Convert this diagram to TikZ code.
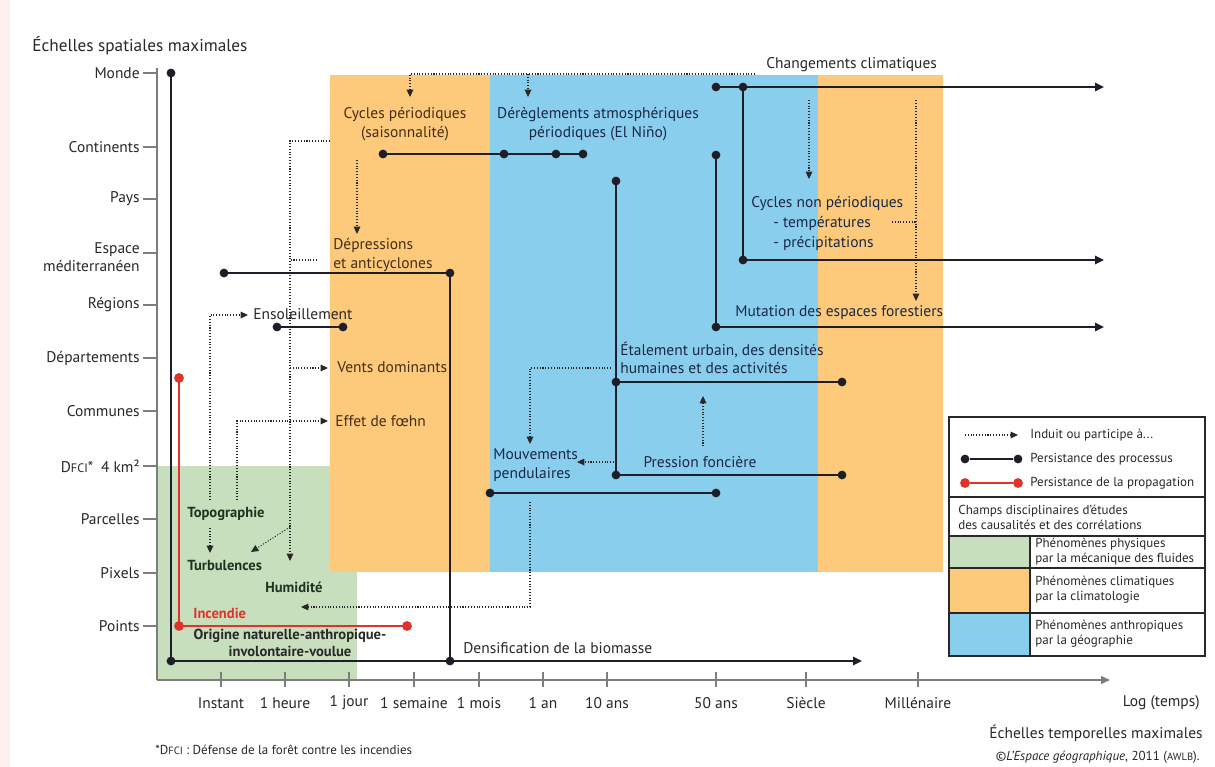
\documentclass[tikz,border=0pt]{standalone}
\usepackage{fontspec}
\setmainfont{PT Sans}
\usepackage{tikz}
\usetikzlibrary{arrows.meta,positioning}
\definecolor{fondvert}{RGB}{200,223,190}
\definecolor{fondorange}{RGB}{253,201,122}
\definecolor{fondbleu}{RGB}{138,206,238}
\definecolor{fondrose}{RGB}{252,241,238}
\definecolor{trait}{RGB}{30,30,40}
\definecolor{rouge}{RGB}{222,52,44}
\definecolor{axe}{RGB}{125,125,125}
\definecolor{encre}{RGB}{40,40,40}
\definecolor{encreclim}{RGB}{70,46,20}
\definecolor{encregeo}{RGB}{26,40,70}
\definecolor{encrephys}{RGB}{32,50,32}
\tikzset{
  pt/.style={circle,fill=trait,inner sep=0pt,minimum size=5pt},
  ptrouge/.style={circle,fill=rouge,inner sep=0pt,minimum size=5.6pt},
  persiste/.style={draw=trait,line width=1.4pt},
  propage/.style={draw=rouge,line width=1.7pt},
  fleche/.style={-{Triangle[length=5pt,width=4.6pt]}},
  induit/.style={draw=encre,densely dotted,line width=0.6pt,-{Triangle[length=4.2pt,width=3.8pt]}},
  trace/.style={draw=encre,densely dotted,line width=0.6pt},
  graduation/.style={draw=axe,line width=0.7pt},
  cadre/.style={draw=encre,line width=0.6pt},
  etiq/.style={inner sep=0pt,text=encre,font=\fontsize{8.8}{10.4}\selectfont},
  gras/.style={inner sep=0pt,font=\fontsize{8.3}{10}\selectfont\bfseries},
  legende/.style={inner sep=0pt,text=encre,font=\fontsize{7.4}{8.5}\selectfont}
}

\begin{document}
\begin{tikzpicture}[x=0.02cm,y=-0.02cm]
\useasboundingbox (0,0) rectangle (1215,767);
\fill[white] (0,0) rectangle (1215,767);
\fill[fondrose] (0,0) rectangle (10,767);

\fill[fondvert] (157,466) rectangle (357,680);
\fill[fondorange] (330,75) rectangle (490,572);
\fill[fondbleu] (490,75) rectangle (818,572);
\fill[fondorange] (818,75) rectangle (943,572);

% axes
\coordinate (oy) at (157,68);
\coordinate (o) at (157,680);
\coordinate (ox) at (1110,680);
\draw[graduation] (o) -- (oy);
\draw[graduation,-{Triangle[length=5pt,width=4.4pt]}] (o) -- (ox);
\foreach \y in {73,147,199,253,305,358,411,466,519,573,626}
  \draw[graduation] (143,\y) -- (157,\y);
\foreach \x in {221,285,349,414,479,543,607,716,806,918}
  \draw[graduation] (\x,672) -- (\x,687);

\node[etiq,anchor=west,font=\fontsize{9.8}{11}\selectfont] (titrey) at (32,46) {Échelles spatiales maximales};
\node[etiq,anchor=east] (ymonde) at (140,73) {Monde};
\node[etiq,anchor=east] (ycont) at (140,147) {Continents};
\node[etiq,anchor=east] (ypays) at (140,199) {Pays};
\node[etiq,anchor=east,align=right] (ymed) at (140,257) {Espace\\méditerranéen};
\node[etiq,anchor=east] (yreg) at (140,305) {Régions};
\node[etiq,anchor=east] (ydep) at (140,358) {Départements};
\node[etiq,anchor=east] (ycom) at (140,411) {Communes};
\node[etiq,anchor=east] (ydfci) at (140,466) {D{\fontsize{7}{8}\selectfont FCI}*\enspace 4 km²};
\node[etiq,anchor=east] (ypar) at (140,519) {Parcelles};
\node[etiq,anchor=east] (ypix) at (140,573) {Pixels};
\node[etiq,anchor=east] (ypts) at (140,626) {Points};

\node[etiq] (xinst) at (221,703) {Instant};
\node[etiq] (xheure) at (285,703) {1 heure};
\node[etiq] (xjour) at (349,703) {1 jour};
\node[etiq] (xsem) at (414,703) {1 semaine};
\node[etiq] (xmois) at (479,703) {1 mois};
\node[etiq] (xan) at (543,703) {1 an};
\node[etiq] (xdix) at (607,703) {10 ans};
\node[etiq] (xcinq) at (716,703) {50 ans};
\node[etiq] (xsiecle) at (806,703) {Siècle};
\node[etiq] (xmil) at (918,703) {Millénaire};
\node[etiq,anchor=east] (xlog) at (1200,703) {Log (temps)};
\node[etiq,anchor=east] (titrex) at (1203,733) {Échelles temporelles maximales};
\node[legende,anchor=east] (source) at (1200,757) {©\textit{L'Espace géographique}, 2011 ({\fontsize{6}{7}\selectfont AWLB}).};
\node[legende,anchor=west] (note) at (155,750) {*D{\fontsize{6}{7}\selectfont FCI} : Défense de la forêt contre les incendies};

% fleches induites
\coordinate (t0) at (755,74);
\coordinate (t1) at (410,74);
\coordinate (t2) at (410,97);
\coordinate (t3) at (528,74);
\coordinate (t4) at (528,97);
\draw[induit] (t0) -- (t1) -- (t2);
\draw[induit] (t3) -- (t4);
\coordinate (d0) at (330,141);
\coordinate (d1) at (290,141);
\coordinate (d2) at (290,561);
\coordinate (d3) at (317,260);
\coordinate (d4) at (290,260);
\coordinate (d5) at (290,368);
\coordinate (d6) at (328,368);
\coordinate (d7) at (290,527);
\coordinate (d8) at (251,552);
\draw[induit] (d0) -- (d1) -- (d2);
\draw[trace] (d3) -- (d4);
\draw[induit] (d5) -- (d6);
\draw[induit] (d7) -- (d8);
\coordinate (q0) at (357,160);
\coordinate (q1) at (357,234);
\draw[induit] (q0) -- (q1);
\coordinate (o0) at (210,500);
\coordinate (o1) at (210,315);
\coordinate (o2) at (248,315);
\coordinate (o3) at (237,500);
\coordinate (o4) at (237,421);
\coordinate (o5) at (328,421);
\coordinate (o6) at (210,528);
\coordinate (o7) at (210,553);
\draw[induit] (o0) -- (o1) -- (o2);
\draw[induit] (o3) -- (o4) -- (o5);
\draw[induit] (o6) -- (o7);
\coordinate (n0) at (809,100);
\coordinate (n1) at (809,179);
\coordinate (n2) at (916,100);
\coordinate (n3) at (916,301);
\coordinate (n4) at (892,222);
\coordinate (n5) at (916,222);
\draw[induit] (n0) -- (n1);
\draw[induit] (n2) -- (n3);
\draw[trace] (n4) -- (n5);
\coordinate (a0) at (611,368);
\coordinate (a1) at (530,368);
\coordinate (a2) at (530,444);
\coordinate (a3) at (614,462);
\coordinate (a4) at (577,462);
\coordinate (a5) at (703,396);
\coordinate (a6) at (703,448);
\draw[induit] (a0) -- (a1) -- (a2);
\draw[induit] (a3) -- (a4);
\draw[induit,{Triangle[length=4.2pt,width=3.8pt]}-] (a5) -- (a6);
\coordinate (b0) at (530,502);
\coordinate (b1) at (530,607);
\coordinate (b2) at (301,607);
\draw[induit] (b0) -- (b1) -- (b2);

% persistance
\node[pt] (monde) at (171,73) {};
\node[pt] (coin) at (171,661) {};
\node[pt] (biom) at (450,661) {};
\coordinate (biomfin) at (862,661);
\node[pt] (med0) at (224,273) {};
\node[pt] (med1) at (450,273) {};
\node[pt] (sol0) at (277,327) {};
\node[pt] (sol1) at (343,327) {};
\node[pt] (cyc0) at (383,154) {};
\node[pt] (cyc1) at (504,154) {};
\node[pt] (cyc2) at (556,154) {};
\node[pt] (cyc3) at (583,154) {};
\node[pt] (clim0) at (716,87) {};
\node[pt] (clim1) at (743,87) {};
\coordinate (climfin) at (1104,87);
\node[pt] (temp) at (743,260) {};
\coordinate (tempfin) at (1104,260);
\node[pt] (mut0) at (716,155) {};
\node[pt] (mut1) at (716,327) {};
\coordinate (mutfin) at (1104,327);
\node[pt] (eta0) at (616,181) {};
\node[pt] (eta1) at (616,382) {};
\node[pt] (eta2) at (616,475) {};
\node[pt] (eta3) at (842,382) {};
\node[pt] (eta4) at (842,475) {};
\node[pt] (pen0) at (490,493) {};
\node[pt] (pen1) at (716,493) {};
\node[ptrouge] (inc0) at (179,378) {};
\node[ptrouge] (inc1) at (179,626) {};
\node[ptrouge] (inc2) at (407,626) {};

\draw[persiste] (monde.center) -- (coin.center);
\draw[persiste,fleche] (coin.center) -- (biomfin);
\draw[persiste] (med0.center) -- (med1.center) -- (biom.center);
\draw[persiste] (sol0.center) -- (sol1.center);
\draw[persiste] (cyc0.center) -- (cyc3.center);
\draw[persiste,fleche] (clim0.center) -- (climfin);
\draw[persiste] (clim1.center) -- (temp.center);
\draw[persiste,fleche] (temp.center) -- (tempfin);
\draw[persiste] (mut0.center) -- (mut1.center);
\draw[persiste,fleche] (mut1.center) -- (mutfin);
\draw[persiste] (eta0.center) -- (eta2.center);
\draw[persiste] (eta1.center) -- (eta3.center);
\draw[persiste] (eta2.center) -- (eta4.center);
\draw[persiste] (pen0.center) -- (pen1.center);
\draw[propage] (inc0.center) -- (inc1.center) -- (inc2.center);

% etiquettes
\node[etiq,anchor=west] (chclim) at (766,65) {Changements climatiques};
\node[etiq,text=encreclim,align=center] (cycper) at (405,124) {Cycles périodiques\\(saisonnalité)};
\node[etiq,text=encregeo,align=center] (dereg) at (598,124) {Dérèglements atmosphériques\\périodiques (El Niño)};
\node[etiq,text=encreclim,anchor=west,align=left] (depr) at (333,255) {Dépressions\\et anticyclones};
\node[etiq,text=encregeo,anchor=west] (cycnp) at (751,204) {Cycles non périodiques};
\node[etiq,text=encregeo,anchor=west] (temper) at (773,223) {- températures};
\node[etiq,text=encregeo,anchor=west] (precip) at (773,243) {- précipitations};
\node[etiq,text=encregeo,anchor=west] (mutat) at (735,313) {Mutation des espaces forestiers};
\node[etiq,anchor=west] (ensol) at (253,314) {Ensoleillement};
\node[etiq,text=encreclim,anchor=west] (vents) at (337,367) {Vents dominants};
\node[etiq,text=encreclim,anchor=west] (foehn) at (335,421) {Effet de fœhn};
\node[etiq,text=encregeo,anchor=west,align=left] (etal) at (620,358) {Étalement urbain, des densités\\humaines et des activités};
\node[etiq,text=encregeo,anchor=west,align=left] (mouv) at (493,465) {Mouvements\\pendulaires};
\node[etiq,text=encregeo] (press) at (700,462) {Pression foncière};
\node[gras,text=encrephys,anchor=west] (topo) at (187,514) {Topographie};
\node[gras,text=encrephys,anchor=west] (turb) at (187,565) {Turbulences};
\node[gras,text=encrephys,anchor=west] (humid) at (265,587) {Humidité};
\node[gras,text=rouge,anchor=west] (incend) at (193,613) {Incendie};
\node[gras,text=encre,align=center] (origine) at (290,643) {Origine naturelle-anthropique-\\involontaire-voulue};
\node[etiq,anchor=west] (densif) at (463,648) {Densification de la biomasse};

% legende
\fill[white] (949,417) rectangle (1205,656);
\fill[fondvert] (949,536) rectangle (1030,568);
\fill[fondorange] (949,568) rectangle (1030,613);
\fill[fondbleu] (949,613) rectangle (1030,656);
\draw[cadre] (949,417) rectangle (1205,656);
\draw[cadre] (949,497) -- (1205,497);
\draw[cadre] (949,536) -- (1205,536);
\draw[cadre] (949,568) -- (1205,568);
\draw[cadre] (949,613) -- (1205,613);
\draw[cadre] (1030,536) -- (1030,656);
\coordinate (lg0) at (965,435);
\coordinate (lg1) at (1018,435);
\draw[induit] (lg0) -- (lg1);
\node[pt] (lgp0) at (965,459) {};
\node[pt] (lgp1) at (1018,459) {};
\draw[draw=trait,line width=0.6pt] (lgp0) -- (lgp1);
\node[ptrouge] (lgr0) at (965,483) {};
\node[ptrouge] (lgr1) at (1018,483) {};
\draw[draw=rouge,line width=1.2pt] (lgr0) -- (lgr1);
\node[legende,anchor=west] (lginduit) at (1030,435) {Induit ou participe à...};
\node[legende,anchor=west] (lgproc) at (1030,459) {Persistance des processus};
\node[legende,anchor=west] (lgprop) at (1030,483) {Persistance de la propagation};
\node[legende,anchor=west,align=left] (lgchamps) at (958,517) {Champs disciplinaires d'études\\des causalités et des corrélations};
\node[legende,anchor=west,align=left] (lgphys) at (1035,552) {Phénomènes physiques\\par la mécanique des fluides};
\node[legende,anchor=west,align=left] (lgclim) at (1035,590) {Phénomènes climatiques\\par la climatologie};
\node[legende,anchor=west,align=left] (lggeo) at (1035,634) {Phénomènes anthropiques\\par la géographie};
\end{tikzpicture}
\end{document}
